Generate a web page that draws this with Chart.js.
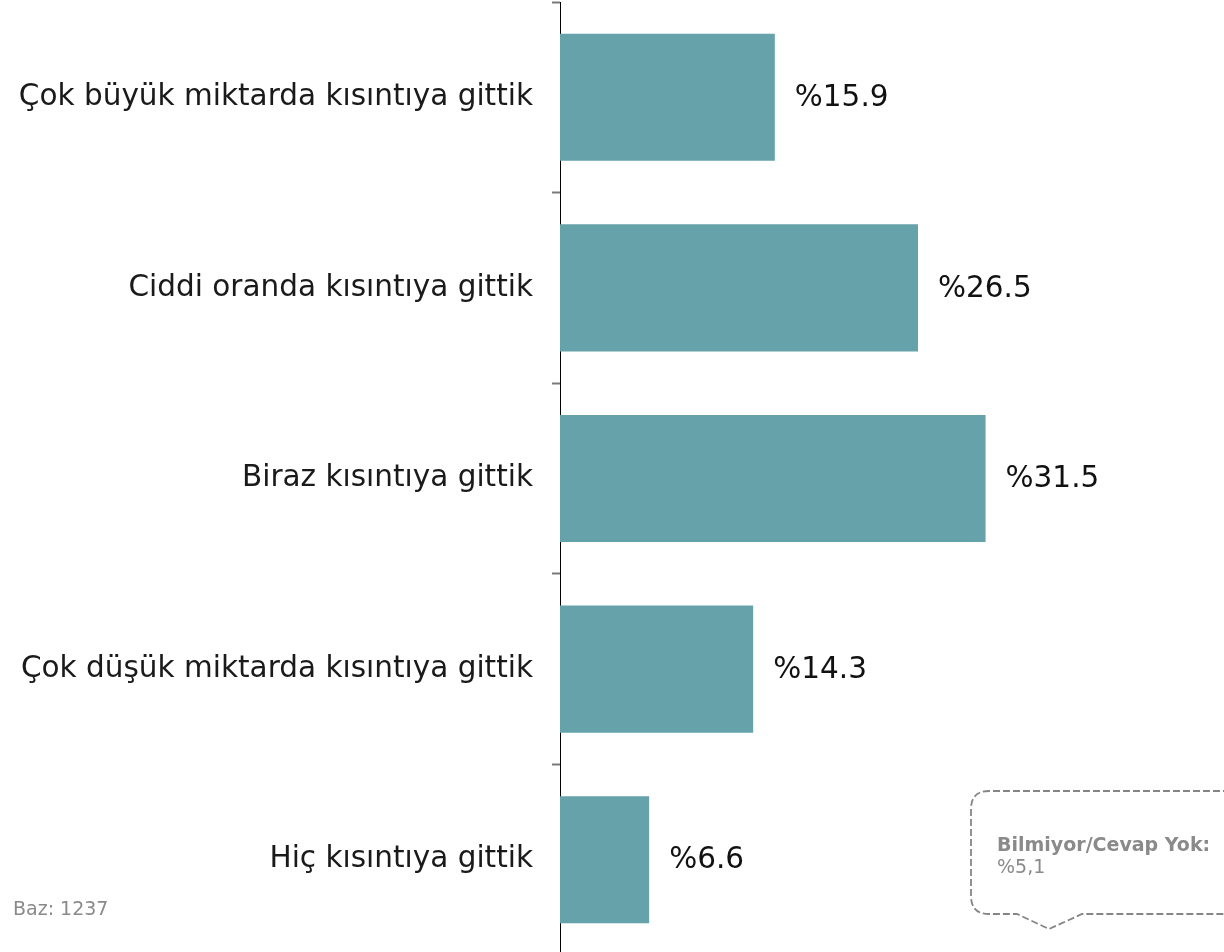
<!DOCTYPE html>
<html>
<head>
<meta charset="utf-8">
<script src="https://cdn.jsdelivr.net/npm/chart.js@4/dist/chart.umd.min.js"></script>
<style>
html,body{margin:0;padding:0;background:#fff;overflow:hidden;}
#wrap{position:relative;width:1224px;height:955px;}
</style>
</head>
<body>
<div id="wrap"><canvas id="c"></canvas></div>
<script>
const categories = [
  "Çok büyük miktarda kısıntıya gittik",
  "Ciddi oranda kısıntıya gittik",
  "Biraz kısıntıya gittik",
  "Çok düşük miktarda kısıntıya gittik",
  "Hiç kısıntıya gittik"
];
const values = [15.9, 26.5, 31.5, 14.3, 6.6];
const valuePrefix = "%";
const baseNote = "Baz: 1237";
const calloutTitle = "Bilmiyor/Cevap Yok:";
const calloutValue = "%5,1";

const FONT = "'DejaVu Sans', Verdana, sans-serif";

const valueLabels = {
  id: 'valueLabels',
  afterDatasetsDraw(chart) {
    const ctx = chart.ctx;
    const meta = chart.getDatasetMeta(0);
    ctx.save();
    ctx.font = "29.5px " + FONT;
    ctx.fillStyle = "#111111";
    ctx.textAlign = "left";
    ctx.textBaseline = "middle";
    meta.data.forEach((bar, i) => {
      ctx.fillText(valuePrefix + values[i].toFixed(1), bar.x + 20, bar.y + 1);
    });
    ctx.restore();
  }
};

const notes = {
  id: 'notes',
  afterDraw(chart) {
    const ctx = chart.ctx;
    ctx.save();
    ctx.font = "19px " + FONT;
    ctx.fillStyle = "#8a8a8a";
    ctx.textAlign = "left";
    ctx.textBaseline = "alphabetic";
    ctx.fillText(baseNote, 13, 915);

    const L = 971, T = 791, R = 1240, B = 914, r = 18;
    const p1 = 1017, pTip = 1049, p2 = 1082, tipY = 929;
    ctx.strokeStyle = "#858585";
    ctx.lineWidth = 1.8;
    ctx.setLineDash([7, 3]);
    ctx.beginPath();
    ctx.moveTo(R, T);
    ctx.lineTo(L + r, T);
    ctx.quadraticCurveTo(L, T, L, T + r);
    ctx.lineTo(L, B - r);
    ctx.quadraticCurveTo(L, B, L + r, B);
    ctx.lineTo(p1, B);
    ctx.lineTo(pTip, tipY);
    ctx.lineTo(p2, B);
    ctx.lineTo(R, B);
    ctx.stroke();
    ctx.setLineDash([]);

    ctx.fillStyle = "#8a8a8a";
    ctx.font = "bold 19px " + FONT;
    ctx.fillText(calloutTitle, 997, 851);
    ctx.font = "19px " + FONT;
    ctx.fillText(calloutValue, 997, 873);
    ctx.restore();
  }
};

new Chart(document.getElementById('c'), {
  type: 'bar',
  data: {
    labels: categories,
    datasets: [{
      data: values,
      backgroundColor: "#66A2AA",
      borderWidth: 0,
      barPercentage: 0.667,
      categoryPercentage: 1
    }]
  },
  options: {
    indexAxis: 'y',
    responsive: true,
    maintainAspectRatio: false,
    animation: false,
    layout: { padding: { top: 2, bottom: 0, left: 0, right: 2 } },
    plugins: {
      legend: { display: false },
      tooltip: { enabled: false },
      title: { display: false }
    },
    scales: {
      x: {
        display: false,
        min: 0,
        max: 49
      },
      y: {
        afterFit(scale) {
          scale.width = 560;
          scale.paddingTop = 0;
          scale.paddingBottom = 0;
        },
        border: { display: true, color: "#000000", width: 1 },
        grid: {
          display: true,
          drawOnChartArea: false,
          drawTicks: true,
          tickLength: 8,
          tickWidth: 2,
          tickColor: "#7a7a7a",
          color: "#7a7a7a",
          offset: true
        },
        ticks: {
          padding: 19,
          color: "#1a1a1a",
          font: { family: FONT, size: 29.5 }
        }
      }
    }
  },
  plugins: [valueLabels, notes]
});
</script>
</body>
</html>
